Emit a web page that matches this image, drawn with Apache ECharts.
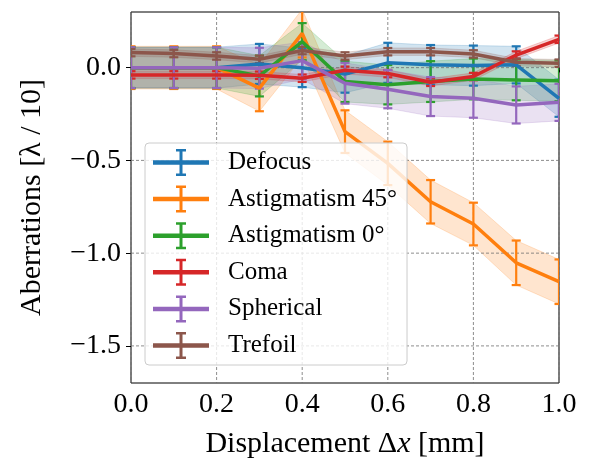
<!DOCTYPE html>
<html>
<head>
<meta charset="utf-8">
<script src="https://cdn.jsdelivr.net/npm/echarts@6/dist/echarts.min.js"></script>
<style>
  html, body { margin: 0; padding: 0; background: #ffffff; }
  #chart { width: 589px; height: 464px; }
</style>
</head>
<body>
<div id="chart"></div>
<script>
// Displacement steps [mm]
const displacement = [0.0, 0.1, 0.2, 0.3, 0.4, 0.5, 0.6, 0.7, 0.8, 0.9, 1.0];

// Mean aberration coefficients [lambda / 10] and their uncertainties
const defocus      = [0.000, 0.000, 0.000, 0.020, 0.000, -0.035, 0.026, 0.015, 0.011, 0.015, -0.165];
const defocusErr   = [0.110, 0.110, 0.110, 0.108, 0.105, 0.100, 0.108, 0.107, 0.108, 0.100, 0.100];
const astig45      = [0.000, 0.000, 0.000, -0.110, 0.185, -0.345, -0.516, -0.723, -0.843, -1.052, -1.154];
const astig45Err   = [0.115, 0.115, 0.115, 0.125, 0.130, 0.115, 0.117, 0.117, 0.115, 0.120, 0.120];
const astig0       = [0.000, 0.000, 0.000, -0.045, 0.140, -0.075, -0.092, -0.075, -0.061, -0.066, -0.071];
const astig0Err    = [0.110, 0.110, 0.110, 0.110, 0.100, 0.110, 0.106, 0.110, 0.110, 0.110, 0.110];
const coma         = [-0.039, -0.039, -0.039, -0.041, -0.057, -0.014, -0.032, -0.079, -0.048, 0.068, 0.153];
const comaErr      = [0.020, 0.020, 0.020, 0.020, 0.020, 0.020, 0.020, 0.020, 0.020, 0.020, 0.020];
const spherical    = [0.000, 0.000, 0.000, -0.003, 0.038, -0.084, -0.116, -0.156, -0.165, -0.201, -0.187];
const sphericalErr = [0.110, 0.110, 0.110, 0.110, 0.100, 0.110, 0.103, 0.105, 0.105, 0.100, 0.100];
const trefoil      = [0.081, 0.076, 0.063, 0.045, 0.092, 0.063, 0.086, 0.086, 0.074, 0.029, 0.024];
const trefoilErr   = [0.020, 0.020, 0.020, 0.020, 0.020, 0.020, 0.020, 0.020, 0.020, 0.020, 0.020];

// Axis ticks
const xTicks = [0.0, 0.2, 0.4, 0.6, 0.8, 1.0];
const yTicks = [-1.5, -1.0, -0.5, 0.0];

const aberrations = [
  { name: 'Defocus',          color: '#1f77b4', values: defocus,   errs: defocusErr },
  { name: 'Astigmatism 45°',  color: '#ff7f0e', values: astig45,   errs: astig45Err },
  { name: 'Astigmatism 0°',   color: '#2ca02c', values: astig0,    errs: astig0Err },
  { name: 'Coma',             color: '#d62728', values: coma,      errs: comaErr },
  { name: 'Spherical',        color: '#9467bd', values: spherical, errs: sphericalErr },
  { name: 'Trefoil',          color: '#8c564b', values: trefoil,   errs: trefoilErr }
];

const FONT = '"Liberation Serif", "DejaVu Serif", serif';
const fmt = v => {
  const s = Math.abs(v) < 1e-9 ? '0.0' : v.toFixed(1);
  return s.replace('-', '\u2212');
};

function hexToRgba(hex, a) {
  const n = parseInt(hex.slice(1), 16);
  return 'rgba(' + ((n >> 16) & 255) + ',' + ((n >> 8) & 255) + ',' + (n & 255) + ',' + a + ')';
}

const series = [];

// Shaded uncertainty bands: one polygon (upper edge, then lower edge reversed)
aberrations.forEach(ab => {
  const rows = displacement.map((x, k) => [x, ab.values[k] - ab.errs[k], ab.values[k] + ab.errs[k]]);
  series.push({
    name: ab.name + ' band',
    type: 'custom',
    silent: true,
    clip: true,
    z: 1,
    data: rows,
    encode: { x: 0, y: [1, 2] },
    renderItem: function (params, api) {
      if (params.dataIndex !== 0) return null;
      const upper = rows.map(r => api.coord([r[0], r[2]]));
      const lower = rows.map(r => api.coord([r[0], r[1]])).reverse();
      return {
        type: 'polygon',
        shape: { points: upper.concat(lower) },
        style: { fill: hexToRgba(ab.color, 0.2), stroke: hexToRgba(ab.color, 0.2), lineWidth: 1 }
      };
    }
  });
});

// Dashed grid, drawn above the bands and below the lines
const gridData = [];
xTicks.forEach(x => gridData.push({ value: [x, 0, 0] }));
yTicks.forEach(y => gridData.push({ value: [0, y, 1] }));
series.push({
  name: 'grid',
  type: 'custom',
  silent: true,
  z: 2,
  data: gridData,
  renderItem: function (params, api) {
    const cs = params.coordSys;
    const flag = api.value(2);
    let shape;
    if (flag === 0) {
      const px = api.coord([api.value(0), 0])[0];
      shape = { x1: px, y1: cs.y, x2: px, y2: cs.y + cs.height };
    } else {
      const py = api.coord([0, api.value(1)])[1];
      shape = { x1: cs.x, y1: py, x2: cs.x + cs.width, y2: py };
    }
    return {
      type: 'line',
      shape: shape,
      style: { stroke: '#707070', lineWidth: 0.8, lineDash: [3, 2] }
    };
  }
});

// Mean lines and error bars (the error-bar series carries the legend entry)
aberrations.forEach(ab => {
  series.push({
    name: ab.name + ' mean',
    type: 'line',
    data: displacement.map((x, k) => [x, ab.values[k]]),
    symbol: 'none',
    color: ab.color,
    lineStyle: { width: 3.5, color: ab.color },
    z: 3
  });
  series.push({
    name: ab.name,
    type: 'custom',
    silent: true,
    clip: true,
    z: 3,
    itemStyle: { color: ab.color },
    data: displacement.map((x, k) => [x, ab.values[k] - ab.errs[k], ab.values[k] + ab.errs[k]]),
    encode: { x: 0, y: [1, 2] },
    renderItem: function (params, api) {
      const x = api.value(0);
      const top = api.coord([x, api.value(2)]);
      const bot = api.coord([x, api.value(1)]);
      const cw = 4.5;
      const style = { stroke: ab.color, lineWidth: 2.2 };
      return {
        type: 'group',
        children: [
          { type: 'line', shape: { x1: top[0], y1: top[1], x2: bot[0], y2: bot[1] }, style: style },
          { type: 'line', shape: { x1: top[0] - cw, y1: top[1], x2: top[0] + cw, y2: top[1] }, style: style },
          { type: 'line', shape: { x1: bot[0] - cw, y1: bot[1], x2: bot[0] + cw, y2: bot[1] }, style: style }
        ]
      };
    }
  });
});

// Legend handle: horizontal line with a capped vertical error bar
const errIcon = 'path://M0 11.25H56V15.75H0Z M26.5 0H29.5V27H26.5Z M23 0H33V2.5H23Z M23 24.5H33V27H23Z';

const chart = echarts.init(document.getElementById('chart'), null, { renderer: 'canvas' });
chart.setOption({
  animation: false,
  backgroundColor: '#ffffff',
  textStyle: { fontFamily: FONT },
  grid: {
    left: 131, right: 30, top: 12, bottom: 81,
    show: true, borderColor: '#000000', borderWidth: 1, backgroundColor: 'transparent'
  },
  legend: {
    data: aberrations.map(ab => ({ name: ab.name, icon: errIcon })),
    orient: 'vertical',
    left: 145, top: 143,
    padding: [6, 10, 6, 8],
    itemWidth: 56, itemHeight: 27, itemGap: 9.6,
    symbolKeepAspect: false,
    backgroundColor: 'rgba(255,255,255,0.8)',
    borderColor: '#cccccc', borderWidth: 1, borderRadius: 4,
    textStyle: { fontFamily: FONT, fontSize: 25, color: '#000000', padding: [0, 0, 0, 14] },
    selectedMode: false,
    z: 10
  },
  xAxis: {
    type: 'value',
    min: 0, max: 1.0, interval: 0.2,
    name: 'Displacement \u0394{i|x} [mm]',
    nameLocation: 'middle',
    nameGap: 46,
    nameTextStyle: {
      fontFamily: FONT, fontSize: 30, color: '#000000',
      rich: { i: { fontFamily: FONT, fontSize: 30, fontStyle: 'italic', color: '#000000' } }
    },
    axisLine: { show: false },
    axisTick: { show: true, inside: false, length: 5, lineStyle: { color: '#000000', width: 1 } },
    axisLabel: { fontFamily: FONT, fontSize: 28, color: '#000000', margin: 8, formatter: fmt },
    splitLine: { show: false }
  },
  yAxis: {
    type: 'value',
    min: -1.70, max: 0.30,
    name: 'Aberrations [\u03bb / 10]',
    nameLocation: 'middle',
    nameGap: 84,
    nameRotate: 90,
    nameTextStyle: { fontFamily: FONT, fontSize: 30, color: '#000000' },
    axisLine: { show: false },
    axisTick: { show: true, inside: false, length: 5, customValues: yTicks, lineStyle: { color: '#000000', width: 1 } },
    axisLabel: { fontFamily: FONT, fontSize: 28, color: '#000000', margin: 10, customValues: yTicks, formatter: fmt },
    splitLine: { show: false }
  },
  series: series
});
</script>
</body>
</html>
